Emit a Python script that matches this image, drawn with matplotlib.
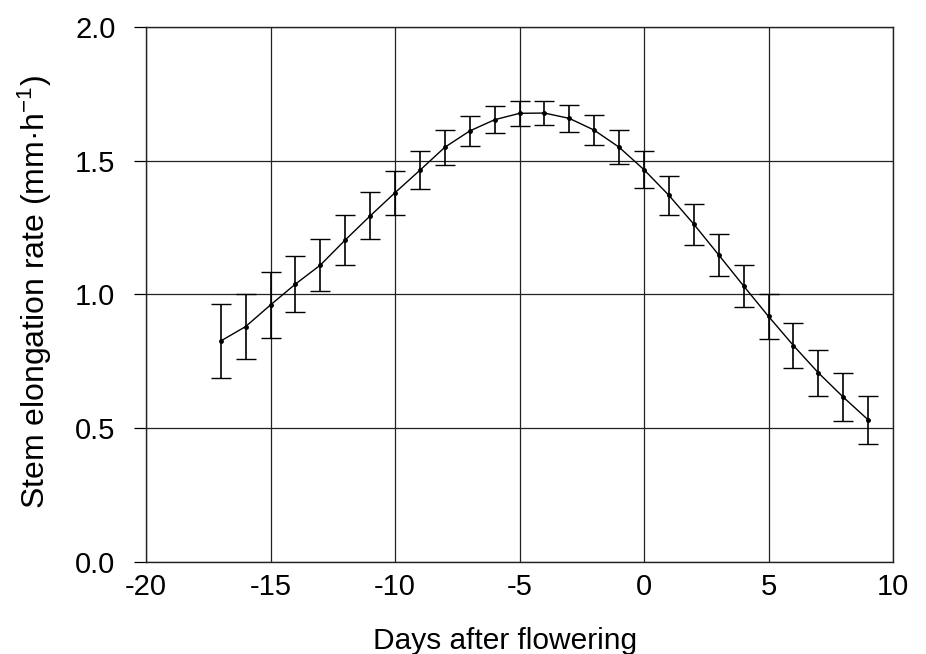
import numpy as np
import matplotlib
matplotlib.use('Agg')
import matplotlib.pyplot as plt

plt.rcParams['font.family'] = ['Liberation Sans', 'DejaVu Sans']
plt.rcParams['mathtext.fontset'] = 'custom'
plt.rcParams['mathtext.rm'] = 'Liberation Sans'
plt.rcParams['mathtext.default'] = 'regular'

# values
days = [-17, -16, -15, -14, -13, -12, -11, -10, -9, -8, -7, -6, -5, -4,
        -3, -2, -1, 0, 1, 2, 3, 4, 5, 6, 7, 8, 9]
rate = [0.826, 0.880, 0.961, 1.039, 1.110, 1.204, 1.294, 1.381, 1.465,
        1.551, 1.612, 1.654, 1.678, 1.679, 1.659, 1.615, 1.551, 1.467,
        1.371, 1.263, 1.148, 1.032, 0.918, 0.809, 0.707, 0.616, 0.531]
err = [0.137, 0.121, 0.124, 0.106, 0.096, 0.092, 0.088, 0.082, 0.072,
       0.066, 0.057, 0.051, 0.047, 0.046, 0.050, 0.056, 0.063, 0.070,
       0.073, 0.077, 0.077, 0.079, 0.083, 0.085, 0.085, 0.090, 0.091]

xticks = [-20, -15, -10, -5, 0, 5, 10]
yticks = [0.0, 0.5, 1.0, 1.5, 2.0]

fig = plt.figure(figsize=(9.26, 6.54), dpi=100)
ax = fig.add_axes([0.1577, 0.1411, 0.8067, 0.8172])

ax.errorbar(days, rate, yerr=err, color='black', lw=1.0, marker='o',
            ms=2.5, elinewidth=1.2, capsize=7, capthick=1.0, zorder=3)

ax.set_xlim(-20, 10)
ax.set_ylim(0, 2)
ax.set_xticks(xticks)
ax.set_yticks(yticks)
ax.set_xticklabels([str(v) for v in xticks])
ax.set_yticklabels(['%.1f' % v for v in yticks])
ax.grid(True, color='#222222', lw=0.9)
ax.set_axisbelow(True)
for s in ax.spines.values():
    s.set_color('#222222')
    s.set_linewidth(1.0)

ax.tick_params(axis='y', direction='out', length=9, width=0.9,
               pad=13, labelsize=21)
ax.tick_params(axis='x', length=0, pad=8, labelsize=21)

# axis titles placed on the figure
fig.text(0.545, 0.008, 'Days after flowering', fontsize=21.5,
         ha='center', va='baseline')
fig.text(0.038, 0.554, 'Stem elongation rate (mm·h$^{-1}$)', fontsize=23,
         ha='center', va='center', rotation=90)

fig.savefig('out.png', dpi=100)
